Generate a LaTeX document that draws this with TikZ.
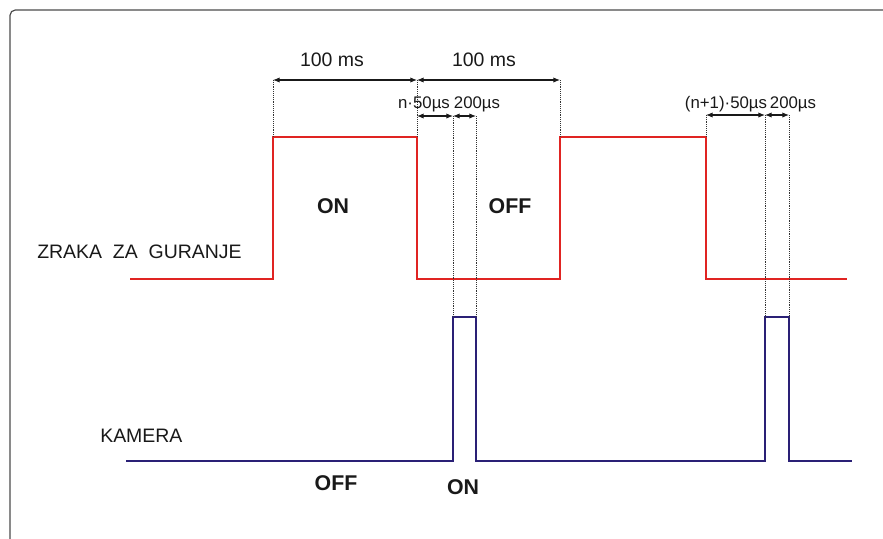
\documentclass[tikz,border=0pt]{standalone}
\usepackage{fontspec}
\setmainfont{Liberation Sans}
\usepackage{xcolor}
\usetikzlibrary{arrows.meta}

\definecolor{zraka}{RGB}{224,36,34}
\definecolor{kamera}{RGB}{42,32,118}

\begin{document}
\begin{tikzpicture}[
  x=0.75pt, y=-0.75pt,
  redsig/.style={draw=zraka, line width=2.2pt, line join=miter},
  bluesig/.style={draw=kamera, line width=2.0pt, line join=miter},
  dotline/.style={draw=black!80, line width=0.7pt, dash pattern=on 0.7pt off 0.7pt},
  dim/.style={{Latex[length=5pt,width=4pt]}-{Latex[length=5pt,width=4pt]}, line width=0.8pt, black!90},
  lbl/.style={inner sep=0pt, anchor=base, font=\fontsize{14.6}{17}\selectfont, text=black!90},
  small/.style={inner sep=0pt, anchor=base, font=\fontsize{12.6}{15}\selectfont, text=black!90},
  state/.style={inner sep=0pt, anchor=base, font=\fontsize{16}{19}\selectfont\bfseries, text=black!90}
]

\clip (0,0) rectangle (883,539);
\useasboundingbox (0,0) rectangle (883,539);

% Frame
\draw[black!70, line width=0.9pt, rounded corners=4pt] (10,10) rectangle (920,580);

% Air signal (red)
\coordinate (r0) at (130,279);
\coordinate (r1) at (273,137);
\coordinate (r2) at (417,137);
\coordinate (r3) at (560,137);
\coordinate (r4) at (706,137);
\coordinate (r5) at (847,279);
\draw[redsig] (r0) -| (r1) -| (r2 |- r0) -| (r3) -| (r4 |- r0) -- (r5);

% Camera signal (blue)
\coordinate (b0) at (126,461);
\coordinate (b1) at (453,317);
\coordinate (b2) at (476,317);
\coordinate (b3) at (765,317);
\coordinate (b4) at (789,317);
\coordinate (b5) at (852,461);
\draw[bluesig] (b0) -| (b1) -| (b2 |- b0) -| (b3) -| (b4 |- b0) -- (b5);

% Dimension marks (100 ms)
\coordinate (t0) at (273,80);
\coordinate (t1) at (417,80);
\coordinate (t2) at (560,80);
\draw[dotline] (t0) -- (r1);
\draw[dotline] (t1) -- (r2);
\draw[dotline] (t2) -- (r3);
\draw[dim] (t0) -- (t1);
\draw[dim] (t1) -- (t2);
\node[lbl] (ms1) at (332,66) {100 ms};
\node[lbl] (ms2) at (484,66) {100 ms};

% Delay and pulse width, first shot
\coordinate (d1) at (417,116);
\coordinate (d2) at (453,116);
\coordinate (d3) at (476,116);
\draw[dotline] (d2) -- (b1);
\draw[dotline] (d3) -- (b2);
\draw[dim] (d1) -- (d2);
\draw[dim] (d2) -- (d3);
\node[small] (del1) at (424,108) {n·50µs};
\node[small] (pw1) at (477,108) {200µs};

% Delay and pulse width, next shot
\coordinate (e1) at (706,115);
\coordinate (e2) at (765,115);
\coordinate (e3) at (789,115);
\draw[dotline] (e1) -- (r4);
\draw[dotline] (e2) -- (b3);
\draw[dotline] (e3) -- (b4);
\draw[dim] (e1) -- (e2);
\draw[dim] (e2) -- (e3);
\node[small] (del2) at (726,108) {(n+1)·50µs};
\node[small] (pw2) at (793,108) {200µs};

% Labels
\node[lbl, anchor=base west] (zraka) at (37,258) {ZRAKA\ \ ZA\ \ GURANJE};
\node[lbl, anchor=base west] (kamera) at (100,442) {KAMERA};
\node[state] (on1) at (333,213) {ON};
\node[state] (off1) at (510,213) {OFF};
\node[state] (off2) at (336,490) {OFF};
\node[state] (on2) at (463,494) {ON};

\end{tikzpicture}
\end{document}
